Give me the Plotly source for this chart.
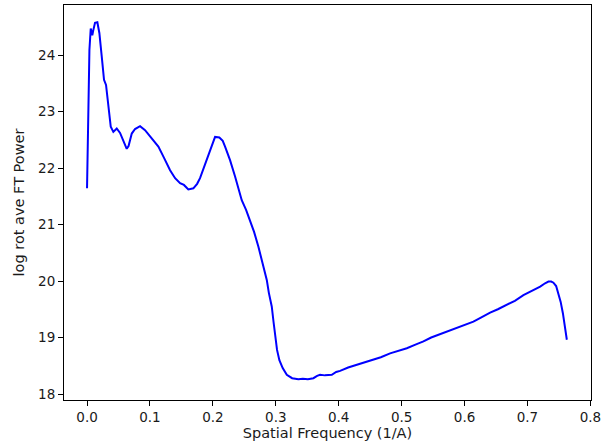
import plotly.graph_objects as go

freq = [0.0, 0.0017, 0.0038, 0.0059, 0.0084, 0.0100, 0.0127, 0.0164, 0.0196, 0.0234,
        0.0270, 0.0302, 0.0339, 0.0377, 0.0418, 0.0472, 0.0525, 0.0577, 0.0631, 0.0660,
        0.0711, 0.0763, 0.0843, 0.0922, 0.1029, 0.1134, 0.1224, 0.1320, 0.1400, 0.1479,
        0.1540, 0.1610, 0.1690, 0.1750, 0.1796, 0.1840, 0.1903, 0.1955, 0.1998, 0.2035,
        0.2103, 0.2157, 0.2194, 0.2273, 0.2353, 0.2400, 0.2459, 0.2528, 0.2591, 0.2655,
        0.2723, 0.2780, 0.2857, 0.2890, 0.2936, 0.2965, 0.2989, 0.3020, 0.3057, 0.3110,
        0.3175, 0.3260, 0.3359, 0.3430, 0.3510, 0.3598, 0.3657, 0.3704, 0.3780, 0.3890,
        0.3960, 0.4022, 0.4150, 0.4261, 0.4400, 0.4552, 0.4670, 0.4817, 0.4940, 0.5083,
        0.5210, 0.5347, 0.5470, 0.5612, 0.5740, 0.5878, 0.6010, 0.6141, 0.6260, 0.6407,
        0.6530, 0.6673, 0.6800, 0.6936, 0.7060, 0.7202, 0.7280, 0.7334, 0.7377, 0.7413,
        0.7456, 0.7493, 0.7528, 0.7563, 0.7595, 0.7626]

power = [21.64, 23.20, 24.09, 24.47, 24.35, 24.44, 24.57, 24.58, 24.39, 23.97,
         23.56, 23.47, 23.08, 22.73, 22.64, 22.70, 22.62, 22.48, 22.34, 22.39,
         22.61, 22.69, 22.74, 22.67, 22.53, 22.38, 22.18, 21.96, 21.82, 21.73,
         21.70, 21.62, 21.64, 21.72, 21.82, 21.96, 22.14, 22.32, 22.47, 22.55,
         22.54, 22.48, 22.38, 22.14, 21.85, 21.65, 21.43, 21.26, 21.08, 20.87,
         20.61, 20.37, 20.02, 19.79, 19.55, 19.27, 19.01, 18.78, 18.60, 18.46,
         18.34, 18.28, 18.26, 18.27, 18.26, 18.28, 18.32, 18.34, 18.33, 18.34,
         18.39, 18.41, 18.47, 18.51, 18.55, 18.61, 18.65, 18.72, 18.76, 18.81,
         18.87, 18.93, 19.00, 19.06, 19.11, 19.16, 19.22, 19.28, 19.35, 19.44,
         19.50, 19.58, 19.65, 19.75, 19.82, 19.90, 19.96, 19.99, 19.99, 19.97,
         19.91, 19.78, 19.63, 19.43, 19.20, 18.96]

x_ticks = [0.0, 0.1, 0.2, 0.3, 0.4, 0.5, 0.6, 0.7, 0.8]
x_tick_labels = ["0.0", "0.1", "0.2", "0.3", "0.4", "0.5", "0.6", "0.7", "0.8"]
y_ticks = [18, 19, 20, 21, 22, 23, 24]
y_tick_labels = ["18", "19", "20", "21", "22", "23", "24"]

fig = go.Figure()
fig.add_trace(go.Scatter(x=freq, y=power, mode="lines",
                         line=dict(color="#0000ff", width=2), showlegend=False))

axis_common = dict(showgrid=False, zeroline=False, showline=True, linecolor="black",
                   linewidth=1, mirror=True, ticks="outside", ticklen=5,
                   tickcolor="black", tickwidth=1, automargin=False,
                   tickfont=dict(family="DejaVu Sans", size=13.5, color="#1a1a1a"))

fig.update_layout(
    width=602, height=448,
    margin=dict(l=64, r=11, t=5, b=48),
    paper_bgcolor="white", plot_bgcolor="white",
    font=dict(family="DejaVu Sans", size=13.5, color="#1a1a1a"),
    xaxis=dict(range=[-0.0366, 0.801], tickvals=x_ticks, ticktext=x_tick_labels,
               title=dict(text="Spatial Frequency (1/A)", standoff=3,
                          font=dict(family="DejaVu Sans", size=14.5)), **axis_common),
    yaxis=dict(range=[17.894, 24.885], tickvals=y_ticks, ticktext=y_tick_labels,
               title=dict(text="log rot ave FT Power", standoff=10,
                          font=dict(family="DejaVu Sans", size=14.5)), **axis_common),
)

fig.write_html("out.html", config={"displayModeBar": False},
               post_script="document.body.style.margin='0';document.body.style.overflow='hidden';")
